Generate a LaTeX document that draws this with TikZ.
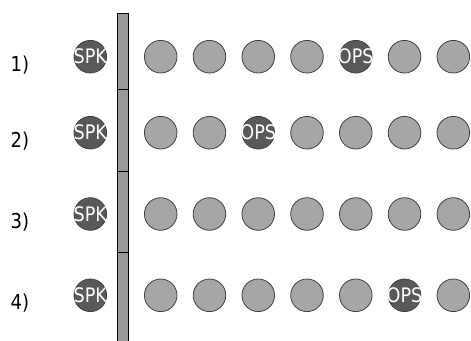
\documentclass[tikz,border=0pt]{standalone}
\usepackage{fontspec}
\setmainfont{DejaVu Sans}
\newfontfamily\tagfont[FakeStretch=0.88]{DejaVu Sans}
\definecolor{ballgray}{HTML}{A6A6A6}
\definecolor{balldark}{HTML}{595959}
\definecolor{ballrim}{HTML}{404040}
\definecolor{wallgray}{HTML}{999999}
\begin{document}
\begin{tikzpicture}[x=1pt,y=-1pt,
    ball/.style={circle,draw=ballrim,fill=ballgray,line width=0.8pt,
      minimum size=32.6pt,inner sep=0pt},
    hot/.style={ball,fill=balldark},
    tag/.style={text=white,inner sep=0pt,font=\tagfont\fontsize{20}{20}\selectfont},
    rowlabel/.style={inner sep=0pt,font=\tagfont\fontsize{20.5}{20.5}\selectfont},
    wall/.style={draw=black,fill=wallgray,line width=0.8pt}]
  \clip (0,0) rectangle (471,340);
  % the wall, in four pieces
  \foreach \a/\b in {13/89,89/171,171/252,252/346}
    \filldraw[wall] (117.3,\a) rectangle (128.3,\b);
  % rows: number / height / column of OPS (0 = none)
  \foreach \r/\y/\o in {1/56.7/5,2/132.7/3,3/214/0,4/295.3/6}{
    \node[rowlabel] (lbl\r) at (20,\y+8) {\r)};
    \node[hot] (spk\r) at (90.3,\y) {};
    \node[tag] (spktxt\r) at (spk\r) {SPK};
    \foreach \c in {1,...,7}{
      \ifnum\c=\o
        \node[hot] (b\r\c) at (160.7+48.77*\c-48.77,\y) {};
        \node[tag] (opstxt\r) at (b\r\c) {OPS};
      \else
        \node[ball] (b\r\c) at (160.7+48.77*\c-48.77,\y) {};
      \fi
    }
  }
\end{tikzpicture}
\end{document}
